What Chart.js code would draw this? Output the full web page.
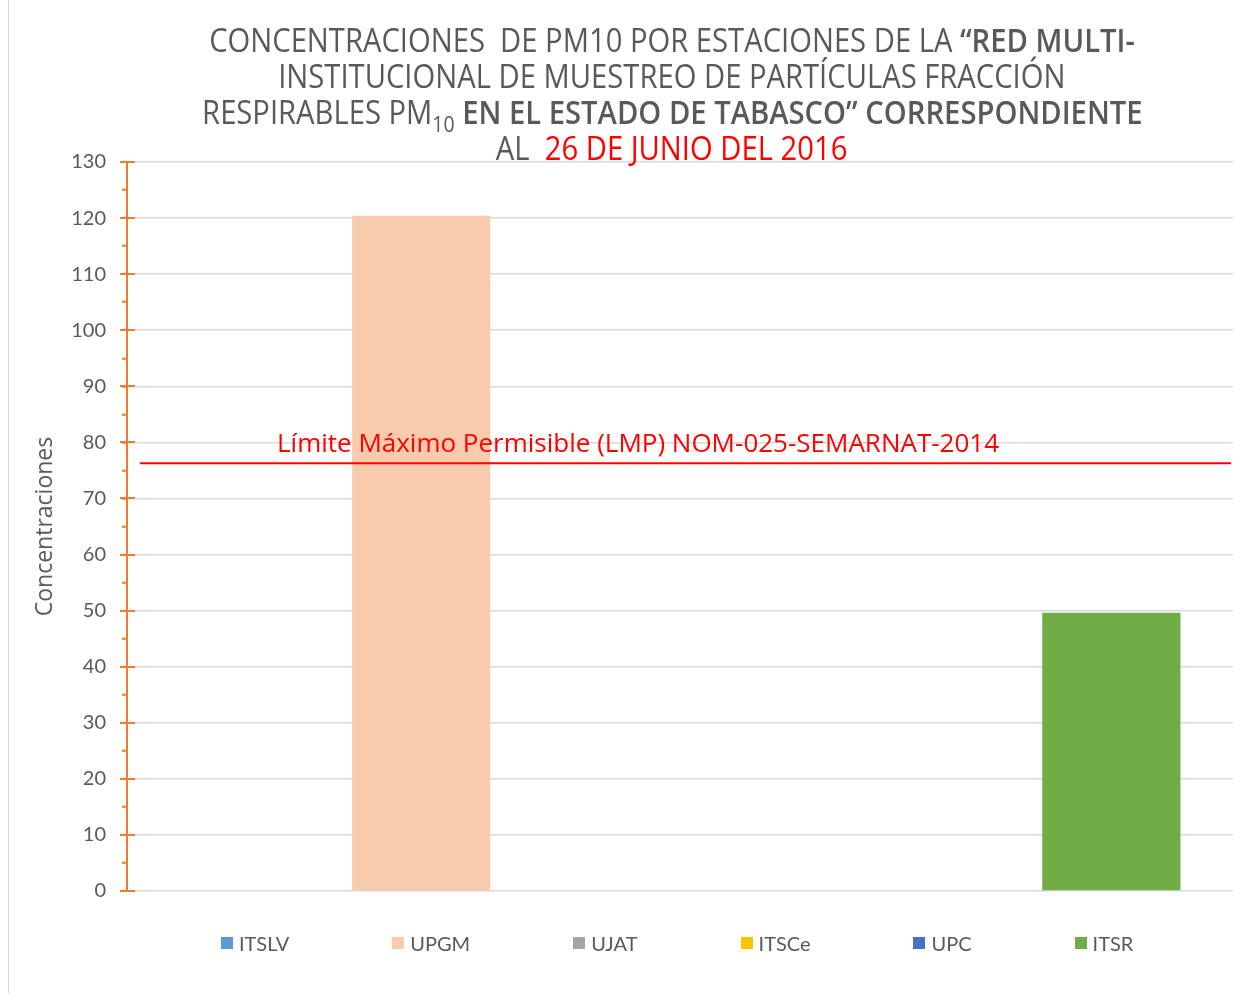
<!DOCTYPE html>
<html lang="es">
<head>
    <meta charset="UTF-8">
    <title>Concentraciones de PM10 - Tabasco</title>
    <script src="https://cdn.jsdelivr.net/npm/chart.js@4.4.0/dist/chart.umd.min.js"></script>
    <style>
        body {
            margin: 0;
            background-color: #fff;
            overflow: hidden;
            font-family: 'Open Sans', sans-serif;
        }
        .container {
            position: relative;
            width: 1256px;
            height: 993px;
        }
        .frame {
            position: absolute;
            left: 8px;
            top: 0;
            height: 993px;
            border-left: 1px solid #D9D9D9;
        }
        .chart-title {
            position: absolute;
            top: 22px;
            left: 0;
            width: 1168px;
            padding-left: 88px;
            text-align: center;
            color: #595959;
            font-size: 33px;
            line-height: 36px;
        }
        .chart-title .line span.fit {
            display: inline-block;
            white-space: nowrap;
            transform: scaleX(0.885);
            transform-origin: center;
        }
        .chart-title b { font-weight: 600; }
        .chart-title sub { font-size: 22px; line-height: 0; vertical-align: -8px; }
        .chart-title .red { color: #FF0000; }
        .chart-container {
            position: absolute;
            left: 0;
            top: 0;
            width: 1256px;
            height: 993px;
        }
        .legend-container {
            position: absolute;
            top: 932px;
            left: 221px;
            display: flex;
            font-family: 'Lato', sans-serif;
            font-size: 20px;
            line-height: 22px;
            color: #595959;
        }
        .legend-item {
            display: flex;
            align-items: center;
            margin-right: 103px;
        }
        .legend-color {
            width: 12px;
            height: 12px;
            margin-right: 6px;
        }
    </style>
</head>
<body>
    <div class="container">
        <div class="chart-container">
            <canvas id="pm10Chart"></canvas>
        </div>
        <div class="frame"></div>
        <div class="chart-title">
            <div class="line"><span class="fit">CONCENTRACIONES&nbsp; DE PM10 POR ESTACIONES DE LA <b>“RED MULTI-</b></span></div>
            <div class="line"><span class="fit">INSTITUCIONAL DE MUESTREO DE PARTÍCULAS FRACCIÓN</span></div>
            <div class="line"><span class="fit">RESPIRABLES PM<sub>10</sub> <b>EN EL ESTADO DE TABASCO” CORRESPONDIENTE</b></span></div>
            <div class="line"><span class="fit">AL&nbsp; <span class="red">26 DE JUNIO DEL 2016</span></span></div>
        </div>
        <div class="legend-container" id="customLegend"></div>
    </div>

    <script>
        // Datos
        const estaciones = ['ITSLV', 'UPGM', 'UJAT', 'ITSCe', 'UPC', 'ITSR'];
        const concentraciones = [null, 120.4, null, null, null, 49.6];
        const colores = ['#5B9BD5', '#F8CBAD', '#A5A5A5', '#FFC000', '#4472C4', '#70AD47'];
        const ejeMin = 0;
        const ejeMax = 130;
        const ejePaso = 5;
        const limiteLMP = 76.3;
        const textoLMP = 'Límite Máximo Permisible (LMP) NOM-025-SEMARNAT-2014';

        // linea del limite maximo permisible
        const lineaLMP = {
            id: 'lineaLMP',
            afterDatasetsDraw(chart) {
                const { ctx, chartArea, scales: { y } } = chart;
                const py = y.getPixelForValue(limiteLMP);
                ctx.save();
                ctx.strokeStyle = '#FF0000';
                ctx.lineWidth = 2;
                ctx.beginPath();
                ctx.moveTo(chartArea.left + 13, py);
                ctx.lineTo(chartArea.right - 2, py);
                ctx.stroke();
                ctx.fillStyle = '#FF0000';
                ctx.font = '26px "Open Sans"';
                ctx.textBaseline = 'alphabetic';
                ctx.fillText(textoLMP, chartArea.left + 150, py - 11);
                ctx.restore();
            }
        };

        // marcas mayores que cruzan el eje
        const marcasMayores = {
            id: 'marcasMayores',
            afterDraw(chart) {
                const { ctx, scales: { y } } = chart;
                ctx.save();
                ctx.strokeStyle = '#ED7D31';
                ctx.lineWidth = 2;
                y.ticks.forEach(t => {
                    if (t.value % 10 !== 0) return;
                    const py = Math.round(y.getPixelForValue(t.value));
                    ctx.beginPath();
                    ctx.moveTo(y.right - 7, py);
                    ctx.lineTo(y.right + 8, py);
                    ctx.stroke();
                });
                ctx.restore();
            }
        };

        function createChart() {
            const ctx = document.getElementById('pm10Chart').getContext('2d');
            const chart = new Chart(ctx, {
                type: 'bar',
                data: {
                    labels: [''],
                    datasets: estaciones.map((nombre, i) => ({
                        label: nombre,
                        data: [concentraciones[i]],
                        backgroundColor: colores[i],
                        borderWidth: 0,
                        barPercentage: 0.801,
                        categoryPercentage: 0.936
                    }))
                },
                options: {
                    responsive: true,
                    maintainAspectRatio: false,
                    animation: false,
                    layout: {
                        padding: { left: 0, right: 23, top: 162, bottom: 102 }
                    },
                    plugins: {
                        legend: { display: false },
                        title: { display: false }
                    },
                    scales: {
                        x: { display: false },
                        y: {
                            min: ejeMin,
                            max: ejeMax,
                            border: { color: '#ED7D31', width: 2 },
                            grid: {
                                color: c => (c.tick && c.tick.value % 10 === 0) ? '#D9D9D9' : 'rgba(0,0,0,0)',
                                lineWidth: 1.5,
                                tickColor: '#ED7D31',
                                tickLength: 5,
                                tickWidth: 2
                            },
                            ticks: {
                                stepSize: ejePaso,
                                autoSkip: false,
                                padding: 16,
                                color: '#595959',
                                font: { family: 'Lato', size: 20 },
                                callback: v => v % 10 === 0 ? v : ''
                            },
                            title: {
                                display: true,
                                text: 'Concentraciones',
                                color: '#595959',
                                font: { family: 'Open Sans', size: 23 },
                                padding: { top: 32, bottom: 0 }
                            },
                            afterFit: s => { s.width = 127; }
                        }
                    }
                },
                plugins: [lineaLMP, marcasMayores]
            });
            createCustomLegend();
        }

        function createCustomLegend() {
            const legendContainer = document.getElementById('customLegend');
            estaciones.forEach((nombre, i) => {
                const legendItem = document.createElement('div');
                legendItem.classList.add('legend-item');
                const colorBox = document.createElement('div');
                colorBox.classList.add('legend-color');
                colorBox.style.backgroundColor = colores[i];
                const labelText = document.createElement('span');
                labelText.textContent = nombre;
                legendItem.appendChild(colorBox);
                legendItem.appendChild(labelText);
                legendContainer.appendChild(legendItem);
            });
        }

        window.onload = createChart;
    </script>
</body>
</html>
